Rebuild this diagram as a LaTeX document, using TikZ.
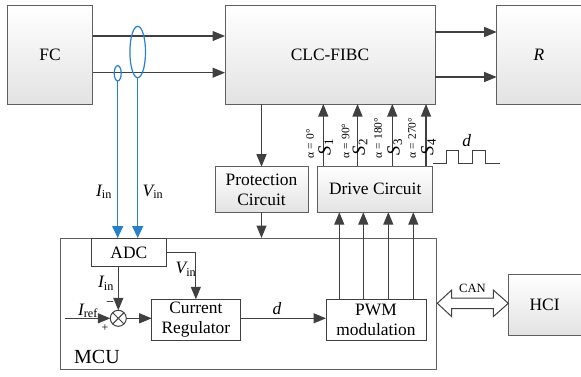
\documentclass[tikz,border=0pt]{standalone}
\usepackage{fontspec}
\setmainfont{Liberation Serif}
\usetikzlibrary{arrows.meta,shapes.geometric}
\definecolor{lc}{RGB}{64,64,64}
\definecolor{bc}{RGB}{95,95,95}
\definecolor{bl}{RGB}{38,128,208}
\begin{document}
\begin{tikzpicture}[x=1pt,y=-1pt,
  every node/.style={font=\fontsize{17.4}{20}\selectfont, inner sep=0pt, outer sep=0pt},
  gbox/.style={draw=bc, line width=0.9pt, top color=white, bottom color=black!11, align=center},
  gfill/.style={top color=white, bottom color=black!11, align=center},
  wbox/.style={draw=lc, line width=0.9pt, fill=white, align=center},
  arr/.style={draw=lc, line width=1.2pt, -{Triangle[length=12.5pt,width=10pt]}},
  barr/.style={draw=bl, line width=1.3pt, -{Triangle[length=12pt,width=11pt]}},
  alab/.style={rotate=90, anchor=west, font=\fontsize{11.5}{13}\selectfont},
  slab/.style={rotate=90, anchor=west, font=\fontsize{18.5}{20}\selectfont\itshape},
  ln/.style={draw=lc, line width=1.2pt}]
\useasboundingbox (0,0) rectangle (581,376);

% main power path
\node[gbox, minimum width=85.4pt, minimum height=99pt] (FC) at (50,54.5) {FC};
\node[gbox, minimum width=210pt, minimum height=99pt] (CLC) at (330,54.5) {CLC-FIBC};
\node[gfill, minimum width=84.3pt, minimum height=99pt] (R) at (538.85,54.5) {\itshape R};
\draw[draw=bc, line width=0.9pt] (R.north east) -- (R.north west) -- (R.south west) -- (R.south east);

\coordinate (ya) at (0,36);
\coordinate (yb) at (0,72.7);
\coordinate (yc) at (0,32);
\coordinate (yd) at (0,77);
\draw[arr] (FC.east |- ya) -- (CLC.west |- ya);
\draw[arr] (FC.east |- yb) -- (CLC.west |- yb);
\draw[arr] (CLC.east |- yc) -- (R.west |- yc);
\draw[arr] (CLC.east |- yd) -- (R.west |- yd);

% protection and drive
\node[gbox, minimum width=93pt, minimum height=45.3pt] (PC) at (261.5,189.35) {Protection\\Circuit};
\node[gbox, minimum width=115pt, minimum height=46pt] (DC) at (375.2,189.2) {Drive Circuit};

% MCU
\node[draw=bc, line width=0.9pt, fill=white, minimum width=376.7pt, minimum height=131.5pt] (MCU) at (248.35,303.75) {};
\node[font=\fontsize{20}{22}\selectfont] (mcul) at (97,357) {MCU};
\node[wbox, minimum width=74.3pt, minimum height=28.7pt] (ADC) at (128.85,252.35) {ADC};
\node[wbox, minimum width=88.3pt, minimum height=40.7pt] (CR) at (195.85,319.65) {Current\\Regulator};
\node[wbox, minimum width=100pt, minimum height=41pt] (PWM) at (376,319.5) {PWM\\modulation};
\node[circle, draw=lc, line width=1pt, fill=white, minimum size=16pt] (sum) at (118.3,318.3) {};
\draw[lc, line width=1pt] (sum.north west) -- (sum.south east) (sum.north east) -- (sum.south west);

% HCI
\node[gfill, minimum width=72.7pt, minimum height=61pt] (HCI) at (544.65,304.5) {HCI};
\draw[draw=bc, line width=0.9pt] (HCI.north east) -- (HCI.north west) -- (HCI.south west) -- (HCI.south east);

% CLC -> protection -> MCU
\draw[arr] (CLC.south -| PC.north) -- (PC.north);
\draw[arr] (PC.south) -- (PC.south |- MCU.north);

% drive -> CLC switching signals
\coordinate (s1) at (323.3,0);
\coordinate (s2) at (357.5,0);
\coordinate (s3) at (392.3,0);
\coordinate (s4) at (426,0);
\foreach \c in {s1,s2,s3,s4}{\draw[arr] (DC.north -| \c) -- (CLC.south -| \c);}
\node[alab] (a1) at (310,158) {α = 0°};
\node[alab] (a2) at (345.5,158) {α = 90°};
\node[alab] (a3) at (378,158) {α = 180°};
\node[alab] (a4) at (412,158) {α = 270°};
\node[slab] (S1) at (325.8,155) {S\textsubscript{\upshape 1}};
\node[slab] (S2) at (360,155) {S\textsubscript{\upshape 2}};
\node[slab] (S3) at (394.8,155) {S\textsubscript{\upshape 3}};
\node[slab] (S4) at (428.5,155) {S\textsubscript{\upshape 4}};

% PWM -> drive
\coordinate (p1) at (339.3,0);
\coordinate (p2) at (363.3,0);
\coordinate (p3) at (388.3,0);
\coordinate (p4) at (413.3,0);
\foreach \c in {p1,p2,p3,p4}{\draw[arr] (PWM.north -| \c) -- (DC.south -| \c);}

% d waveform
\coordinate (w0) at (433.3,163.3);
\draw[draw=lc, line width=1pt] (w0) -- ++(12.7,0) -- ++(0,-13.3) -- ++(12.3,0) -- ++(0,13.3) -- ++(14.4,0) -- ++(0,-13.3) -- ++(12.3,0) -- ++(0,13.3) -- ++(15,0);
\node[font=\fontsize{17.4}{20}\selectfont\itshape] (dw) at (466.7,141) {d};

% sensing (blue)
\draw[barr] (117.7,81) coordinate (eIs) -- (eIs |- ADC.north);
\draw[barr] (137.7,77.7) coordinate (eVs) -- (eVs |- ADC.north);
\node[ellipse, draw=bl, line width=1.2pt, minimum width=15.6pt, minimum height=51.4pt] (eV) at (137.7,52) {};
\node[ellipse, draw=bl, line width=1.2pt, minimum width=7pt, minimum height=15.4pt] (eI) at (117.7,73.3) {};
\node (lI) at (104,192) {{\itshape I}\textsubscript{in}};
\node (lV) at (153,192) {{\itshape V}\textsubscript{in}};

% inside MCU
\draw[arr] (ADC.east) -| (CR.north);
\node (lV2) at (186,269) {{\itshape V}\textsubscript{in}};
\draw[arr] (ADC.south -| sum) -- (sum.north);
\node (lI2) at (106,283) {{\itshape I}\textsubscript{in}};
\coordinate (iref) at (65,318.3);
\draw[arr] (iref) -- (sum.west);
\node (lIr) at (88,311) {{\itshape I}\textsubscript{ref}};
\node[font=\fontsize{14}{16}\selectfont] (minus) at (110,304) {−};
\node[font=\fontsize{12}{14}\selectfont] (plus) at (105,328) {+};
\draw[arr] (sum.east) -- (CR.west |- sum);
\draw[arr] (CR.east |- sum) -- (PWM.west |- sum);
\node[font=\fontsize{17.4}{20}\selectfont\itshape] (dl) at (277,309) {d};

% CAN double arrow
\coordinate (cl) at (437.3,303.3);
\draw[draw=lc, line width=1pt, fill=white] (cl) -- ++(14.4,-13.3) -- ++(0,8) -- ++(41.6,0) -- ++(0,-8) -- ++(15,13.3) -- ++(-15,13.3) -- ++(0,-8) -- ++(-41.6,0) -- ++(0,8) -- cycle;
\node[font=\fontsize{12.6}{14}\selectfont] (can) at (472.5,288) {CAN};
\end{tikzpicture}
\end{document}
